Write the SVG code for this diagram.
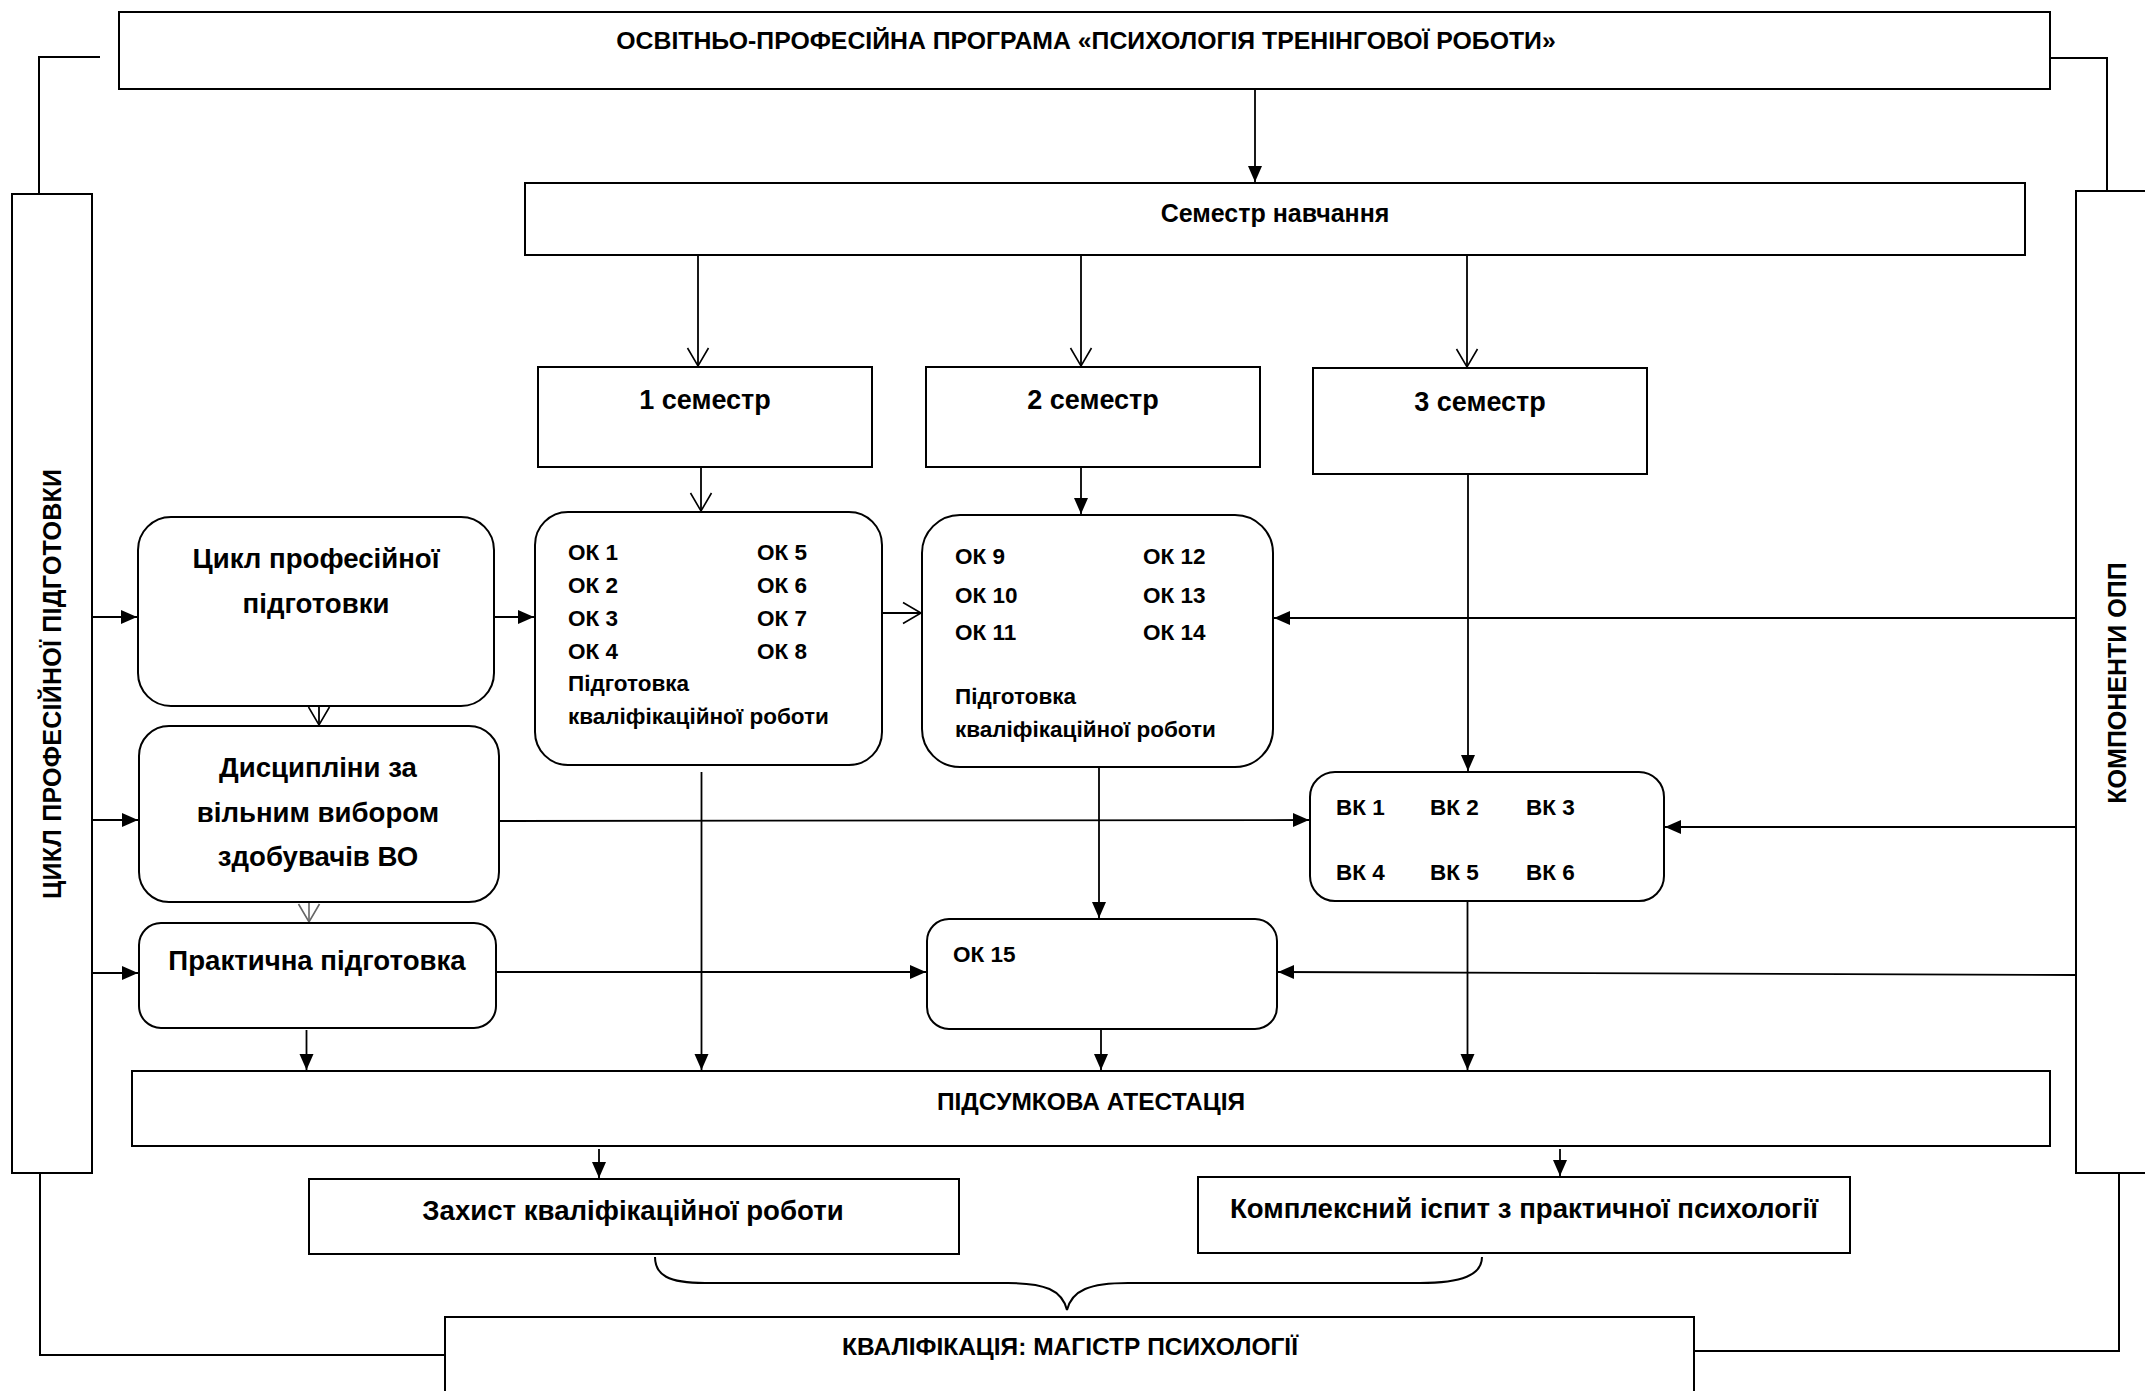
<svg xmlns="http://www.w3.org/2000/svg" width="2145" height="1391" viewBox="0 0 2145 1391">
<style>
.b{fill:#fff;stroke:#000;stroke-width:2}
.t{font-family:"Liberation Sans",Arial,sans-serif;font-weight:bold;fill:#000}
.c{text-anchor:middle}
.ln{fill:none;stroke:#000;stroke-width:2}
.ar{fill:none;stroke:#000;stroke-width:1.8;marker-end:url(#af)}
.ao{fill:none;stroke:#000;stroke-width:1.8;marker-end:url(#ao)}
</style>
<defs>
<marker id="af" markerWidth="18" markerHeight="16" refX="16" refY="7" orient="auto" markerUnits="userSpaceOnUse" overflow="visible"><path d="M0,0 L16,7 L0,14 Z" fill="#000"/></marker>
<marker id="ao" markerWidth="20" markerHeight="24" refX="18" refY="11" orient="auto" markerUnits="userSpaceOnUse" overflow="visible"><path d="M0,0.5 L18,11 L0,21.5" fill="none" stroke="#000" stroke-width="1.6"/></marker>
<marker id="aog" markerWidth="20" markerHeight="24" refX="18" refY="11" orient="auto" markerUnits="userSpaceOnUse" overflow="visible"><path d="M0,0.5 L18,11 L0,21.5" fill="none" stroke="#666" stroke-width="1.6"/></marker>
</defs>
<rect width="2145" height="1391" fill="#fff"/>

<g id="connectors">
<polyline class="ln" points="100,57 39,57 39,194"/>
<polyline class="ln" points="2034,58 2107,58 2107,191"/>
<polyline class="ln" points="40,1173 40,1355 445,1355"/>
<polyline class="ln" points="2119,1173 2119,1351 1694,1351"/>
<line class="ar" x1="1255" y1="89" x2="1255" y2="182"/>
<line class="ao" x1="698" y1="255" x2="698" y2="366"/>
<line class="ao" x1="1081" y1="255" x2="1081" y2="366"/>
<line class="ao" x1="1467" y1="255" x2="1467" y2="367"/>
<polyline points="1466,247 1478,254 1477,237" fill="none" stroke="#4a78c4" stroke-width="1.6"/>
<line class="ao" x1="701" y1="467" x2="701" y2="511"/>
<line class="ar" x1="1081" y1="467" x2="1081" y2="514"/>
<line class="ar" x1="1468" y1="474" x2="1468" y2="771"/>
<line class="ar" x1="92" y1="617" x2="137" y2="617"/>
<line class="ar" x1="494" y1="617" x2="534" y2="617"/>
<line class="ao" x1="882" y1="613" x2="921" y2="613"/>
<line class="ao" x1="319" y1="706" x2="319" y2="725"/>
<line class="ar" x1="92" y1="820" x2="138" y2="820"/>
<line class="ar" x1="499" y1="821" x2="1309" y2="820"/>
<line x1="309" y1="902" x2="309" y2="922" fill="none" stroke="#666" stroke-width="1.6" marker-end="url(#aog)"/>
<line class="ar" x1="92" y1="973" x2="138" y2="973"/>
<line class="ar" x1="496" y1="972" x2="926" y2="972"/>
<line class="ar" x1="2076" y1="618" x2="1274" y2="618"/>
<line class="ar" x1="2076" y1="827" x2="1665" y2="827"/>
<line class="ar" x1="2076" y1="975" x2="1278" y2="972"/>
<line class="ar" x1="701.5" y1="772" x2="701.5" y2="1070"/>
<line class="ar" x1="1099" y1="767" x2="1099" y2="918"/>
<line class="ar" x1="306.5" y1="1030" x2="306.5" y2="1070"/>
<line class="ar" x1="1101" y1="1029" x2="1101" y2="1070"/>
<line class="ar" x1="1467.5" y1="901" x2="1467.5" y2="1070"/>
<line class="ar" x1="599" y1="1149" x2="599" y2="1178"/>
<line class="ar" x1="1560" y1="1149" x2="1560" y2="1176"/>
<path class="ln" d="M655,1257 C655,1275 668,1283 705,1283 L1008,1283 C1045,1283 1062,1290 1067,1310 C1072,1290 1090,1283 1128,1283 L1420,1283 C1462,1283 1482,1275 1482,1257"/>
</g>

<g id="n-top"><rect class="b" x="119" y="12" width="1931" height="77"/>
<text class="t c" x="1086" y="49" font-size="24.8">ОСВІТНЬО-ПРОФЕСІЙНА ПРОГРАМА «ПСИХОЛОГІЯ ТРЕНІНГОВОЇ РОБОТИ»</text></g>

<g id="n-left"><rect class="b" x="12" y="194" width="80" height="979"/>
<text class="t c" font-size="25" transform="translate(61,684) rotate(-90)" textLength="430">ЦИКЛ ПРОФЕСІЙНОЇ ПІДГОТОВКИ</text></g>

<g id="n-right"><rect class="b" x="2076" y="191" width="110" height="982"/>
<text class="t c" font-size="25" transform="translate(2126,683) rotate(-90)">КОМПОНЕНТИ ОПП</text></g>

<g id="n-sem"><rect class="b" x="525" y="183" width="1500" height="72"/>
<text class="t c" x="1275" y="222" font-size="25">Семестр навчання</text></g>

<g id="n-s1"><rect class="b" x="538" y="367" width="334" height="100"/>
<text class="t c" x="705" y="409" font-size="27">1 семестр</text></g>
<g id="n-s2"><rect class="b" x="926" y="367" width="334" height="100"/>
<text class="t c" x="1093" y="409" font-size="27">2 семестр</text></g>
<g id="n-s3"><rect class="b" x="1313" y="368" width="334" height="106"/>
<text class="t c" x="1480" y="411" font-size="27">3 семестр</text></g>

<g id="n-cycle"><rect class="b" x="138" y="517" width="356" height="189" rx="33"/>
<text class="t c" x="316" y="568" font-size="27.6">Цикл професійної</text>
<text class="t c" x="316" y="613" font-size="27.6">підготовки</text></g>

<g id="n-ok1" class="t" font-size="22.5"><rect class="b" x="535" y="512" width="347" height="253" rx="33"/>
<text x="568" y="560">ОК 1</text><text x="757" y="560">ОК 5</text>
<text x="568" y="593">ОК 2</text><text x="757" y="593">ОК 6</text>
<text x="568" y="626">ОК 3</text><text x="757" y="626">ОК 7</text>
<text x="568" y="659">ОК 4</text><text x="757" y="659">ОК 8</text>
<text x="568" y="691">Підготовка</text>
<text x="568" y="724">кваліфікаційної роботи</text></g>

<g id="n-ok9" class="t" font-size="22.5"><rect class="b" x="922" y="515" width="351" height="252" rx="38"/>
<text x="955" y="564">ОК 9</text><text x="1143" y="564">ОК 12</text>
<text x="955" y="603">ОК 10</text><text x="1143" y="603">ОК 13</text>
<text x="955" y="640">ОК 11</text><text x="1143" y="640">ОК 14</text>
<text x="955" y="704">Підготовка</text>
<text x="955" y="737">кваліфікаційної роботи</text></g>

<g id="n-elective"><rect class="b" x="139" y="726" width="360" height="176" rx="30"/>
<text class="t c" x="318" y="777" font-size="27.6">Дисципліни за</text>
<text class="t c" x="318" y="822" font-size="27.6">вільним вибором</text>
<text class="t c" x="318" y="866" font-size="27.6">здобувачів ВО</text></g>

<g id="n-vk" class="t" font-size="22.5"><rect class="b" x="1310" y="772" width="354" height="129" rx="25"/>
<text x="1336" y="815">ВК 1</text><text x="1430" y="815">ВК 2</text><text x="1526" y="815">ВК 3</text>
<text x="1336" y="880">ВК 4</text><text x="1430" y="880">ВК 5</text><text x="1526" y="880">ВК 6</text></g>

<g id="n-practice"><rect class="b" x="139" y="923" width="357" height="105" rx="22"/>
<text class="t c" x="317" y="970" font-size="27.6">Практична підготовка</text></g>

<g id="n-ok15"><rect class="b" x="927" y="919" width="350" height="110" rx="22"/>
<text class="t" x="953" y="962" font-size="22.5">ОК 15</text></g>

<g id="n-final"><rect class="b" x="132" y="1071" width="1918" height="75"/>
<text class="t c" x="1091" y="1110" font-size="24.5">ПІДСУМКОВА АТЕСТАЦІЯ</text></g>

<g id="n-defense"><rect class="b" x="309" y="1179" width="650" height="75" stroke-width="2.6"/>
<text class="t c" x="633" y="1220" font-size="27.6">Захист кваліфікаційної роботи</text></g>

<g id="n-exam"><rect class="b" x="1198" y="1177" width="652" height="76"/>
<text class="t c" x="1524" y="1218" font-size="27.6">Комплексний іспит з практичної психології</text></g>

<g id="n-qual"><rect class="b" x="445" y="1317" width="1249" height="100"/>
<text class="t c" x="1070" y="1355" font-size="24.5">КВАЛІФІКАЦІЯ: МАГІСТР ПСИХОЛОГІЇ</text></g>
</svg>
